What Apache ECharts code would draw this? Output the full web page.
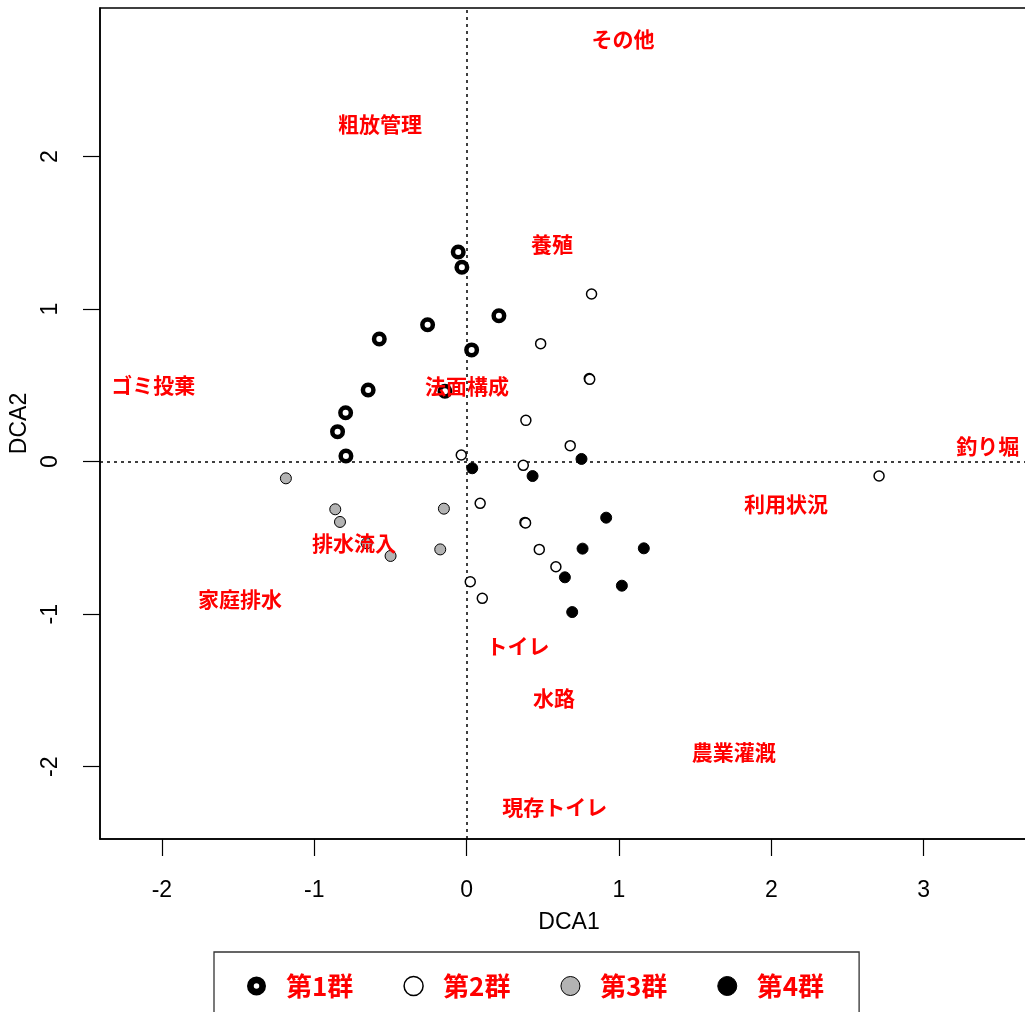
<!DOCTYPE html>
<html>
<head>
<meta charset="utf-8">
<script src="https://cdn.jsdelivr.net/npm/echarts@6/dist/echarts.min.js"></script>
<style>
  html, body { margin: 0; padding: 0; background: #fff; overflow: hidden; }
  #chart { width: 1060px; height: 1012px; }
</style>
</head>
<body>
<div id="chart"></div>
<script>
// DCA site scores by group
var g1X = [-0.055, -0.031, 0.212, -0.256, -0.573, 0.033, -0.646, -0.142, -0.794, -0.847, -0.792];
var g1Y = [1.375, 1.275, 0.957, 0.898, 0.805, 0.733, 0.470, 0.462, 0.321, 0.197, 0.037];

var g2X = [0.820, 0.486, 0.805, 0.808, 0.389, 0.680, -0.035, 0.372, 0.089, 0.383, 0.387, 0.477, 0.586, 0.024, 0.103, 2.707];
var g2Y = [1.100, 0.774, 0.545, 0.540, 0.271, 0.105, 0.044, -0.024, -0.273, -0.398, -0.402, -0.575, -0.689, -0.787, -0.896, -0.094];

var g3X = [-1.186, -0.862, -0.831, -0.149, -0.173, -0.499, -0.656];
var g3Y = [-0.109, -0.312, -0.395, -0.308, -0.575, -0.618, -0.535];

var g4X = [0.037, 0.433, 0.754, 0.916, 0.761, 1.163, 0.645, 1.019, 0.693];
var g4Y = [-0.043, -0.094, 0.018, -0.367, -0.570, -0.568, -0.758, -0.813, -0.986];

// environmental variable labels
var envNames = ['その他', '粗放管理', '養殖', 'ゴミ投棄', '法面構成', '釣り堀', '利用状況', '排水流入', '家庭排水', 'トイレ', '水路', '農業灌漑', '現存トイレ'];
var envX = [1.026, -0.569, 0.560, -2.057, 0.002, 3.421, 2.096, -0.739, -1.487, 0.337, 0.573, 1.754, 0.579];
var envY = [2.772, 2.214, 1.427, 0.503, 0.496, 0.103, -0.277, -0.533, -0.900, -1.209, -1.550, -1.904, -2.264];

var groupNames = ['第1群', '第2群', '第3群', '第4群'];
var xTicks = [-2, -1, 0, 1, 2, 3];
var yTicks = [-2, -1, 0, 1, 2];

function zip(xs, ys) {
    var out = [];
    for (var i = 0; i < xs.length; i++) { out.push([xs[i], ys[i]]); }
    return out;
}

var numFont = 'Liberation Sans, Arial, sans-serif';
var jpFont = '"Noto Sans CJK JP", sans-serif';
// thick ring for the legend (outer circle with a small hole)
var ringIcon = 'path://M9,0A9,9,0,1,1,9,18A9,9,0,1,1,9,0ZM9,6.4A2.6,2.6,0,1,0,9,11.6A2.6,2.6,0,1,0,9,6.4Z';

var envData = envNames.map(function (n, i) {
    return { name: n, value: [envX[i], envY[i]] };
});

var option = {
    animation: false,
    backgroundColor: '#fff',
    grid: {
        left: 100,
        top: 8,
        width: 938,
        height: 831,
        show: true,
        borderColor: '#000',
        borderWidth: 1.5
    },
    xAxis: {
        type: 'value',
        min: -2.406,
        max: 3.75,
        name: 'DCA1',
        nameLocation: 'middle',
        nameGap: 72,
        nameTextStyle: { color: '#000', fontSize: 23, fontFamily: numFont },
        axisLine: { onZero: false, lineStyle: { color: '#000', width: 1.5 } },
        axisTick: { show: true, customValues: xTicks, length: 17, lineStyle: { color: '#000', width: 1.2 } },
        axisLabel: { customValues: xTicks, margin: 40, color: '#000', fontSize: 23, fontFamily: numFont },
        splitLine: { show: false }
    },
    yAxis: {
        type: 'value',
        min: -2.474,
        max: 2.975,
        name: 'DCA2',
        nameLocation: 'middle',
        nameGap: 66,
        nameRotate: 90,
        nameTextStyle: { color: '#000', fontSize: 23, fontFamily: numFont },
        axisLine: { onZero: false, lineStyle: { color: '#000', width: 1.5 } },
        axisTick: { show: true, customValues: yTicks, length: 17, lineStyle: { color: '#000', width: 1.2 } },
        axisLabel: { customValues: yTicks, rotate: 90, margin: 38, color: '#000', fontSize: 23, fontFamily: numFont },
        splitLine: { show: false }
    },
    legend: {
        left: 214,
        top: 952,
        orient: 'horizontal',
        padding: [21, 35, 21, 33],
        borderColor: '#333',
        borderWidth: 1.3,
        itemGap: 50,
        itemWidth: 19,
        itemHeight: 19,
        textStyle: { color: '#ff0000', fontSize: 26, fontWeight: 'bold', fontFamily: jpFont, padding: [0, 0, 0, 15] },
        data: [
            { name: '第1群', icon: ringIcon, itemStyle: { color: '#000', borderWidth: 0 } },
            { name: '第2群', icon: 'circle', itemStyle: { color: '#fff', borderColor: '#000', borderWidth: 1.5 } },
            { name: '第3群', icon: 'circle', itemStyle: { color: '#b3b3b3', borderColor: '#000', borderWidth: 1 } },
            { name: '第4群', icon: 'circle', itemStyle: { color: '#000', borderColor: '#000', borderWidth: 1 } }
        ]
    },
    series: [
        {
            name: groupNames[0],
            type: 'scatter',
            symbol: 'circle',
            symbolSize: 10.5,
            itemStyle: { color: '#fff', borderColor: '#000', borderWidth: 4.5, opacity: 1 },
            data: zip(g1X, g1Y),
            z: 2
        },
        {
            name: groupNames[1],
            type: 'scatter',
            symbol: 'circle',
            symbolSize: 10,
            itemStyle: { color: '#fff', borderColor: '#000', borderWidth: 1.5, opacity: 1 },
            data: zip(g2X, g2Y),
            z: 2
        },
        {
            name: groupNames[2],
            type: 'scatter',
            symbol: 'circle',
            symbolSize: 11,
            itemStyle: { color: '#b3b3b3', borderColor: '#000', borderWidth: 1, opacity: 1 },
            data: zip(g3X, g3Y),
            z: 2
        },
        {
            name: groupNames[3],
            type: 'scatter',
            symbol: 'circle',
            symbolSize: 11,
            itemStyle: { color: '#000', borderColor: '#000', borderWidth: 1, opacity: 1 },
            data: zip(g4X, g4Y),
            z: 2
        },
        {
            name: 'env',
            type: 'scatter',
            symbolSize: 0,
            silent: true,
            z: 5,
            itemStyle: { opacity: 1 },
            label: {
                show: true,
                position: 'inside',
                formatter: '{b}',
                color: '#ff0000',
                fontSize: 21,
                fontWeight: 'bold',
                fontFamily: jpFont
            },
            markLine: {
                silent: true,
                symbol: 'none',
                label: { show: false },
                lineStyle: { color: '#000', type: [3, 4], width: 1.5, opacity: 1 },
                data: [{ xAxis: 0 }, { yAxis: 0 }],
                z: 1
            },
            data: envData
        }
    ]
};

var myChart = echarts.init(document.getElementById('chart'));
myChart.setOption(option);
</script>
</body>
</html>
